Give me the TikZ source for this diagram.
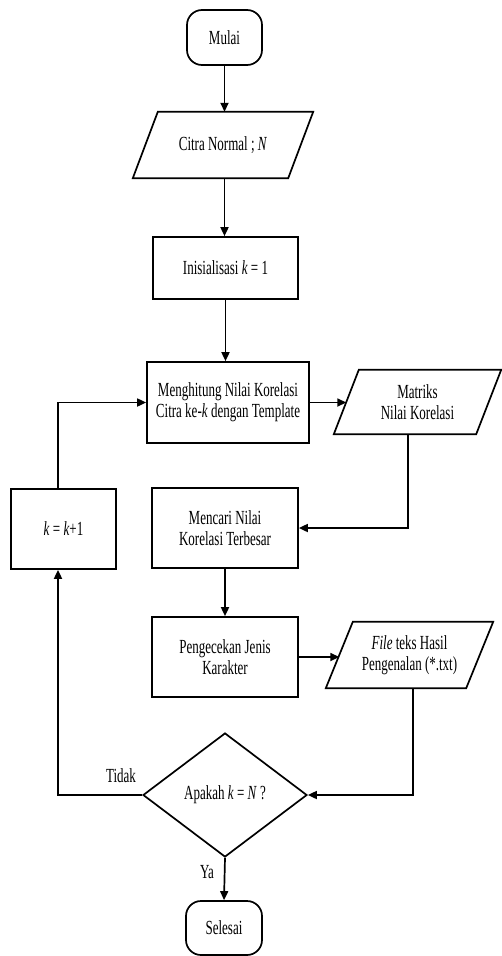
\documentclass[tikz,border=0pt]{standalone}
\usepackage{fontspec}
\setmainfont{Liberation Serif}[FakeStretch=0.65]
\usetikzlibrary{arrows.meta,shapes.geometric}
\newcommand\drawpara[2]{\draw[line width=1.7pt,line join=miter] ([xshift=#2]#1.north west) -- ([xshift=#2]#1.north east) -- ([xshift=-#2]#1.south east) -- ([xshift=-#2]#1.south west) -- cycle;}
\begin{document}
\begin{tikzpicture}[x=1pt,y=-1pt,
  every node/.style={font=\fontsize{20}{21}\selectfont, align=center},
  arr/.style={line width=1.7pt,-{Triangle[length=9pt,width=8pt]}},
  proc/.style={draw, line width=1.7pt, rectangle, inner sep=0pt},
  term/.style={draw, line width=1.7pt, rectangle, rounded corners=15pt, inner sep=0pt},
  io/.style={rectangle, inner sep=0pt},
  dec/.style={draw, line width=1.7pt, diamond, inner sep=0pt},
  lbl/.style={inner sep=0pt}
]
\useasboundingbox (0,0) rectangle (502,956);

\node[term, minimum width=75pt, minimum height=55pt] (mulai) at (224.5,37.5) {Mulai};
\node[io, minimum width=155pt, minimum height=66pt] (citra) at (223,145) {Citra Normal ; \textit{N}};
\drawpara{citra}{12.5pt}
\node[proc, minimum width=145pt, minimum height=62pt] (init) at (225.5,268) {Inisialisasi \textit{k} = 1};
\node[proc, minimum width=162pt, minimum height=81pt] (hitung) at (228,402.5) {Menghitung Nilai Korelasi\\Citra ke-\textit{k} dengan Template};
\node[io, minimum width=142pt, minimum height=64pt] (matriks) at (417.5,402) {Matriks\\Nilai Korelasi};
\drawpara{matriks}{12.5pt}
\node[proc, minimum width=146pt, minimum height=80pt] (cari) at (225,528) {Mencari Nilai\\Korelasi Terbesar};
\node[proc, minimum width=105pt, minimum height=80pt] (kplus) at (63.5,529) {\textit{k} = \textit{k}+1};
\node[proc, minimum width=146pt, minimum height=80pt] (cek) at (225,657) {Pengecekan Jenis\\Karakter};
\node[io, minimum width=140pt, minimum height=66pt] (file) at (409.5,655) {\textit{File} teks Hasil\\Pengenalan (*.txt)};
\drawpara{file}{13.5pt}
\node[dec, minimum width=164pt, minimum height=124pt] (tanya) at (225,795) {Apakah \textit{k} = \textit{N} ?};
\node[term, minimum width=76pt, minimum height=54pt] (selesai) at (224,928) {Selesai};

\node[lbl] (tidak) at (121,776) {Tidak};
\node[lbl] (ya) at (207,872) {Ya};

\coordinate (loopx) at (58,0);
\coordinate (mx) at (408,0);
\coordinate (fx) at (413,0);

\draw[arr] (mulai.south) -- (mulai.south |- citra.north);
\draw[arr] (mulai.south |- citra.south) -- (mulai.south |- init.north);
\draw[arr] (init.south) -- (init.south |- hitung.north);
\draw[arr] (hitung.east) -- (hitung.east -| matriks.west);
\draw[arr] (mx |- matriks.south) |- (cari.east);
\draw[arr] (cari.south) -- (cek.north);
\draw[arr] (cek.east) -- (cek.east -| file.west);
\draw[arr] (fx |- file.south) |- (tanya.east);
\draw[arr] (tanya.west) -| (loopx |- kplus.south);
\draw[arr] (loopx |- kplus.north) |- (hitung.west);
\draw[arr] (tanya.south) -- (selesai.north);
\end{tikzpicture}
\end{document}
